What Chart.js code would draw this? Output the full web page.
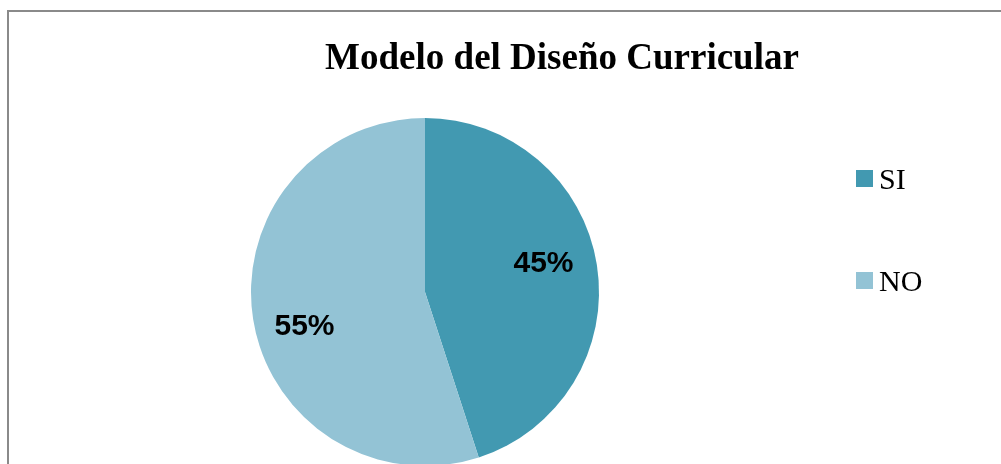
<!DOCTYPE html>
<html>
<head>
<meta charset="utf-8">
<script src="https://cdn.jsdelivr.net/npm/chart.js@4.4.0/dist/chart.umd.min.js"></script>
<style>
  html, body { margin: 0; padding: 0; background: #fff; overflow: hidden; }
  #wrap { position: relative; width: 1001px; height: 500px; }
  #frame { position: absolute; left: 7px; top: 10px; width: 1100px; height: 600px;
           border-left: 2px solid #8a8a8a; border-top: 2px solid #8a8a8a; box-sizing: border-box; }
  canvas { position: absolute; left: 0; top: 0; }
</style>
</head>
<body>
<div id="wrap">
  <div id="frame"></div>
  <canvas id="c" width="1001" height="500"></canvas>
</div>
<script>
const chartTitle = "Modelo del Diseño Curricular";
const categories = ["SI", "NO"];
const values = [45, 55];
const colors = ["#4299B1", "#93C3D5"];

const overlay = {
  id: 'overlay',
  afterDraw(chart) {
    const ctx = chart.ctx;
    ctx.save();
    // title
    ctx.fillStyle = '#000';
    ctx.font = 'bold 37px "Liberation Serif", "Times New Roman", serif';
    ctx.textAlign = 'center';
    ctx.textBaseline = 'alphabetic';
    ctx.fillText(chartTitle, 562, 69);
    // percentage labels
    const meta = chart.getDatasetMeta(0);
    const total = values.reduce((a, b) => a + b, 0);
    ctx.font = 'bold 30px "Liberation Sans", Arial, sans-serif';
    ctx.textBaseline = 'middle';
    meta.data.forEach((arc, i) => {
      const p = arc.getProps(['x', 'y', 'startAngle', 'endAngle', 'outerRadius'], true);
      const mid = (p.startAngle + p.endAngle) / 2 - 0.1;
      const r = p.outerRadius * 0.71;
      const x = p.x + Math.cos(mid) * r - 1;
      const y = p.y + Math.sin(mid) * r + 3;
      ctx.fillText(Math.round(values[i] / total * 100) + '%', x, y);
    });
    // legend
    ctx.font = '30px "Liberation Serif", "Times New Roman", serif';
    ctx.textAlign = 'left';
    ctx.textBaseline = 'alphabetic';
    categories.forEach((c, i) => {
      const y0 = 170 + i * 102;
      ctx.fillStyle = colors[i];
      ctx.fillRect(856, y0, 17, 17);
      ctx.fillStyle = '#000';
      ctx.fillText(c, 879, y0 + 19);
    });
    ctx.restore();
  }
};

new Chart(document.getElementById('c'), {
  type: 'pie',
  data: {
    labels: categories,
    datasets: [{ data: values, backgroundColor: colors, borderWidth: 0 }]
  },
  options: {
    responsive: false,
    animation: false,
    layout: { padding: { left: 251, right: 402, top: 118, bottom: 34 } },
    plugins: { legend: { display: false }, title: { display: false }, tooltip: { enabled: false } }
  },
  plugins: [overlay]
});
</script>
</body>
</html>
